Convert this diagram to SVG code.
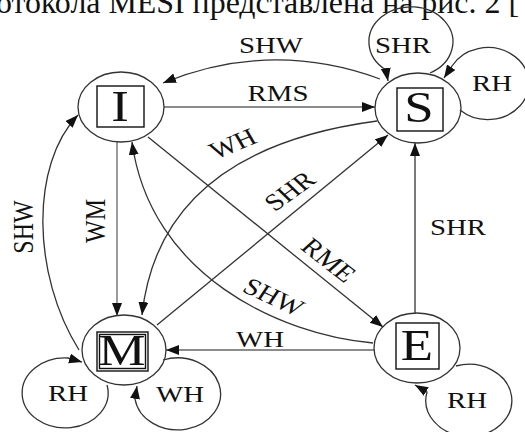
<svg xmlns="http://www.w3.org/2000/svg" width="525" height="432" viewBox="0 0 525 432">
<style>
.node ellipse{fill:none;stroke:#333;stroke-width:1.3}
.box{fill:none;stroke:#111;stroke-width:1.4}
.big{font-family:"Liberation Serif","Times New Roman",serif;font-size:44px;fill:#111;text-anchor:middle}
.lbl{font-family:"Liberation Serif","Times New Roman",serif;font-size:24px;fill:#111;text-anchor:middle}
.e{fill:none;stroke:#333;stroke-width:1.3}
.g{stroke:#666}
.top{font-family:"Liberation Serif","Times New Roman",serif;font-size:32px;fill:#111}
</style>
<defs>
<marker id="ah" markerUnits="userSpaceOnUse" markerWidth="14" markerHeight="11" refX="13" refY="5" orient="auto">
<path d="M0,0 L13,5 L0,10 z" fill="#111"/>
</marker>
</defs>
<rect width="525" height="432" fill="#fff"/>
<text class="top" x="-4" y="13" textLength="523" lengthAdjust="spacingAndGlyphs">отокола MESI представлена на рис. 2 [</text>

<g id="connectors">
<path class="e" d="M380,79 Q271,39 163,83" marker-end="url(#ah)"/>
<path class="e g" d="M164,107 L375,107" marker-end="url(#ah)"/>
<path class="e" d="M377,121 Q160,150 142,315" marker-end="url(#ah)"/>
<path class="e" d="M157,325 L388,135" marker-end="url(#ah)"/>
<path class="e" d="M148,137 L383,327" marker-end="url(#ah)"/>
<path class="e" d="M373,343 C280,335 150,275 132,142" marker-end="url(#ah)"/>
<path class="e" d="M79,350 C32,275 30,165 78,115" marker-end="url(#ah)"/>
<path class="e g" d="M117,142 L117,316" marker-end="url(#ah)"/>
<path class="e" d="M415,313 L415,143" marker-end="url(#ah)"/>
<path class="e g" d="M374,350 L166,350" marker-end="url(#ah)"/>
<path class="e" d="M430,73 A42,35 0 1 0 386,70 L388,81" marker-end="url(#ah)"/>
<path class="e" d="M460,110 A41,36 0 1 0 452,66 L444,78" marker-end="url(#ah)"/>
<path class="e" d="M107,385 A43,35 0 1 1 68,358 L82,362" marker-end="url(#ah)"/>
<path class="e" d="M163,360 A43,36 0 1 1 135,399 L137,386" marker-end="url(#ah)"/>
<path class="e" d="M456,366 A43,36 0 1 1 427,392 L415,385" marker-end="url(#ah)"/>
<text class="lbl" transform="translate(271,53) scale(1.2,1)">SHW</text>
<text class="lbl" transform="translate(278,101) scale(1.2,1)">RMS</text>
<text class="lbl" transform="translate(237,151) scale(1.2,1) rotate(-26)">WH</text>
<text class="lbl" transform="translate(296,197) scale(1.2,1) rotate(-41)">SHR</text>
<text class="lbl" transform="translate(322,266) scale(1.2,1) rotate(43)">RME</text>
<text class="lbl" transform="translate(269,304) scale(1.2,1) rotate(29)">SHW</text>
<text class="lbl" transform="translate(458,235) scale(1.2,1)">SHR</text>
<text class="lbl" transform="translate(260,347) scale(1.2,1)">WH</text>
<text class="lbl" transform="translate(105,221) scale(1.2,1) rotate(-90)">WM</text>
<text class="lbl" transform="translate(33,227) scale(1.2,1) rotate(-90)">SHW</text>
<text class="lbl" transform="translate(403,53) scale(1.2,1)">SHR</text>
<text class="lbl" transform="translate(492,91) scale(1.2,1)">RH</text>
<text class="lbl" transform="translate(68,401) scale(1.2,1)">RH</text>
<text class="lbl" transform="translate(180,402) scale(1.2,1)">WH</text>
<text class="lbl" transform="translate(467,408) scale(1.2,1)">RH</text>
</g>

<g id="node-I" class="node">
<ellipse cx="121" cy="107" rx="43" ry="35"/>
<rect class="box" x="97" y="86" width="47" height="41"/>
<text class="big" transform="translate(120,121) scale(1.2,1)">I</text>
</g>
<g id="node-S" class="node">
<ellipse cx="418" cy="108" rx="43" ry="35"/>
<rect class="box" x="397" y="88" width="46" height="43"/>
<text class="big" transform="translate(419,122) scale(1.2,1)">S</text>
</g>
<g id="node-M" class="node">
<ellipse cx="124" cy="350" rx="42" ry="35"/>
<rect class="box" x="97" y="332" width="51" height="39"/>
<rect class="box" x="99.5" y="334.5" width="46" height="34"/>
<text class="big" transform="translate(122,365) scale(1.2,1)">M</text>
</g>
<g id="node-E" class="node">
<ellipse cx="417" cy="348" rx="43" ry="35"/>
<rect class="box" x="396" y="323" width="43" height="46"/>
<text class="big" transform="translate(417,360) scale(1.2,1)">E</text>
</g>
</svg>
